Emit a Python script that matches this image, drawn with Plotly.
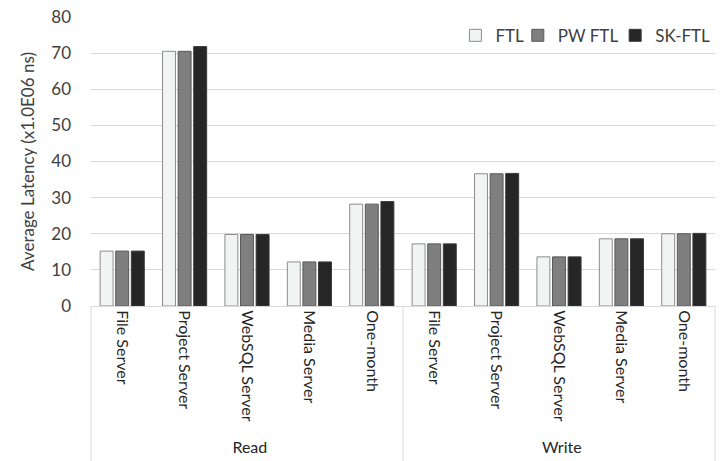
import plotly.graph_objects as go

# Workload groups and traces
groups = ["Read"] * 5 + ["Write"] * 5
traces = ["File Server", "Project Server", "WebSQL Server", "Media Server", "One-month"] * 2

# Average latency in units of 1.0E06 ns
ftl = [15.2, 70.5, 19.8, 12.2, 28.2, 17.2, 36.6, 13.6, 18.6, 20.0]
pw_ftl = [15.2, 70.5, 19.8, 12.2, 28.2, 17.2, 36.6, 13.6, 18.6, 20.0]
sk_ftl = [15.2, 71.8, 19.8, 12.2, 28.9, 17.2, 36.7, 13.6, 18.6, 20.1]

series = [
    ("FTL", ftl, "#f2f4f3", "#8c8c8c", "legend", 0.584),
    ("PW FTL", pw_ftl, "#7f7f7f", "#595959", "legend2", 0.684),
    ("SK-FTL", sk_ftl, "#262626", "#3a3a3a", "legend3", 0.840),
]

font_family = "Lato, 'Open Sans', sans-serif"
grid = "#d9d9d9"

fig = go.Figure()
legends = {}
for name, vals, fill, edge, leg, lx in series:
    fig.add_trace(go.Bar(
        x=[groups, traces], y=vals, name=name, legend=leg,
        marker=dict(color=fill, line=dict(color=edge, width=1)),
    ))
    legends[leg] = dict(
        x=lx, xanchor="left", y=0.935, yanchor="middle",
        font=dict(size=17, color="#404040"), bgcolor="rgba(0,0,0,0)",
        itemwidth=30,
    )

fig.update_layout(
    width=726, height=461,
    margin=dict(l=91, r=11, t=17, b=155, autoexpand=False),
    paper_bgcolor="white", plot_bgcolor="white",
    barmode="group", bargap=0.25, bargroupgap=0.17,
    font=dict(family=font_family, size=17, color="#404040"),
    showlegend=True,
    **legends,
)

fig.update_yaxes(
    range=[0, 80], dtick=10, showgrid=True, gridcolor=grid, gridwidth=1,
    zeroline=False, showline=False, ticks="", ticklabelstandoff=19,
    automargin=False,
    tickfont=dict(size=17, color="#404040"),
    title=dict(text="Average Latency (x1.0E06 ns)", font=dict(size=17, color="#404040"), standoff=12),
)
fig.update_xaxes(
    type="multicategory", tickangle=90, showline=True, linecolor=grid, linewidth=1,
    showdividers=False, ticks="", automargin=False,
    tickfont=dict(size=16, color="#262626"),
)

# Group separators running from the axis down through the label area
for xp in (0, 0.5, 1):
    fig.add_shape(type="line", xref="paper", yref="paper",
                  x0=xp, x1=xp, y0=0, y1=-0.6,
                  line=dict(color=grid, width=1))

fig.write_html("out.html")
